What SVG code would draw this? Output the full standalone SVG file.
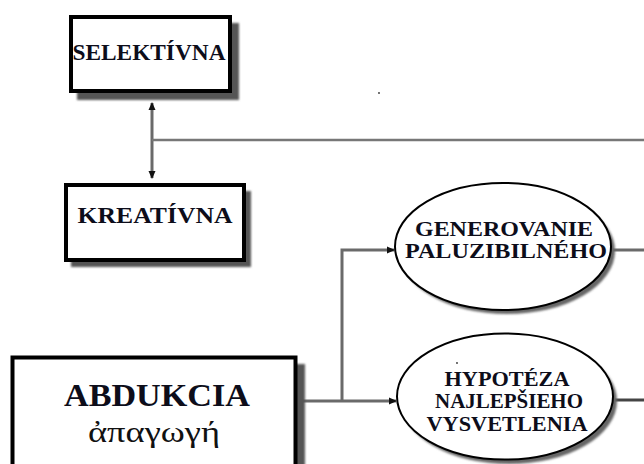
<svg xmlns="http://www.w3.org/2000/svg" width="644" height="464" viewBox="0 0 644 464">
  <defs>
    <marker id="ah" markerWidth="8" markerHeight="8" refX="7" refY="4" orient="auto-start-reverse" markerUnits="userSpaceOnUse">
      <path d="M0,0.5 L8,4 L0,7.5 Z" fill="#111"/>
    </marker>
    <filter id="blur" x="-10%" y="-10%" width="120%" height="120%">
      <feGaussianBlur stdDeviation="1.2"/>
    </filter>
  </defs>
  <style>
    .box { fill: #fff; stroke: #000; stroke-width: 4; }
    .shadow { fill: #555; filter: url(#blur); }
    .ell { fill: #fff; stroke: #000; stroke-width: 2; }
    .eshadow { fill: #666; filter: url(#blur); }
    .lbl { font-family: "Liberation Serif", "DejaVu Serif", serif; font-weight: bold; fill: #0d0d1a; text-anchor: middle; }
    .greek { font-family: "Liberation Serif", "DejaVu Serif", serif; fill: #111; text-anchor: middle; }
    .conn { fill: none; stroke: #6a6a6a; stroke-width: 3; }
    .thin { fill: none; stroke: #777; stroke-width: 2.5; }
  </style>
  <rect width="644" height="464" fill="#fff"/>

  <g id="connectors">
    <line class="conn" x1="152" y1="103" x2="152" y2="178" marker-start="url(#ah)" marker-end="url(#ah)"/>
    <line class="thin" x1="152" y1="140" x2="644" y2="140"/>
    <path class="conn" d="M297,401 H396" marker-end="url(#ah)"/>
    <path class="conn" d="M342,401 V250 H394" marker-end="url(#ah)"/>
    <path class="conn" d="M611,250 H644"/>
    <path class="conn" d="M613,400 H644" style="stroke:#444"/>
  </g>

  <g id="selektivna">
    <rect class="shadow" x="77" y="23" width="162" height="77"/>
    <rect class="box" x="71" y="17" width="159" height="74"/>
    <text class="lbl" x="149" y="60" font-size="23" textLength="153" lengthAdjust="spacingAndGlyphs">SELEKTÍVNA</text>
  </g>

  <g id="kreativna">
    <rect class="shadow" x="71" y="191" width="180" height="76"/>
    <rect class="box" x="66" y="185" width="178" height="75"/>
    <text class="lbl" x="155" y="223" font-size="24" textLength="155" lengthAdjust="spacingAndGlyphs">KREATÍVNA</text>
  </g>

  <g id="abdukcia">
    <rect class="shadow" x="20" y="364" width="285" height="120"/>
    <rect class="box" x="12.5" y="357.5" width="283" height="120" stroke-width="3"/>
    <text class="lbl" x="157" y="406" font-size="31" textLength="186" lengthAdjust="spacingAndGlyphs">ABDUKCIA</text>
    <text class="greek" x="154" y="442" font-size="30" textLength="132" lengthAdjust="spacingAndGlyphs">ἀπαγωγή</text>
  </g>

  <g id="generovanie">
    <ellipse class="eshadow" cx="507" cy="251" rx="108" ry="63"/>
    <ellipse class="ell" cx="503" cy="246.5" rx="108" ry="63.5"/>
    <text class="lbl" x="504" y="236" font-size="20" textLength="178" lengthAdjust="spacingAndGlyphs">GENEROVANIE</text>
    <text class="lbl" x="506" y="258" font-size="20" textLength="202" lengthAdjust="spacingAndGlyphs">PALUZIBILNÉHO</text>
  </g>

  <g id="hypoteza">
    <ellipse class="eshadow" cx="509" cy="401" rx="108" ry="63"/>
    <ellipse class="ell" cx="505" cy="396.5" rx="108" ry="63"/>
    <text class="lbl" x="507" y="386" font-size="21" textLength="125" lengthAdjust="spacingAndGlyphs">HYPOTÉZA</text>
    <text class="lbl" x="509" y="408" font-size="21" textLength="148" lengthAdjust="spacingAndGlyphs">NAJLEPŠIEHO</text>
    <text class="lbl" x="507" y="431" font-size="21" textLength="161" lengthAdjust="spacingAndGlyphs">VYSVETLENIA</text>
  </g>

  <circle cx="379" cy="93" r="0.9" fill="#333"/>
  <circle cx="457" cy="363" r="0.9" fill="#333"/>
</svg>
